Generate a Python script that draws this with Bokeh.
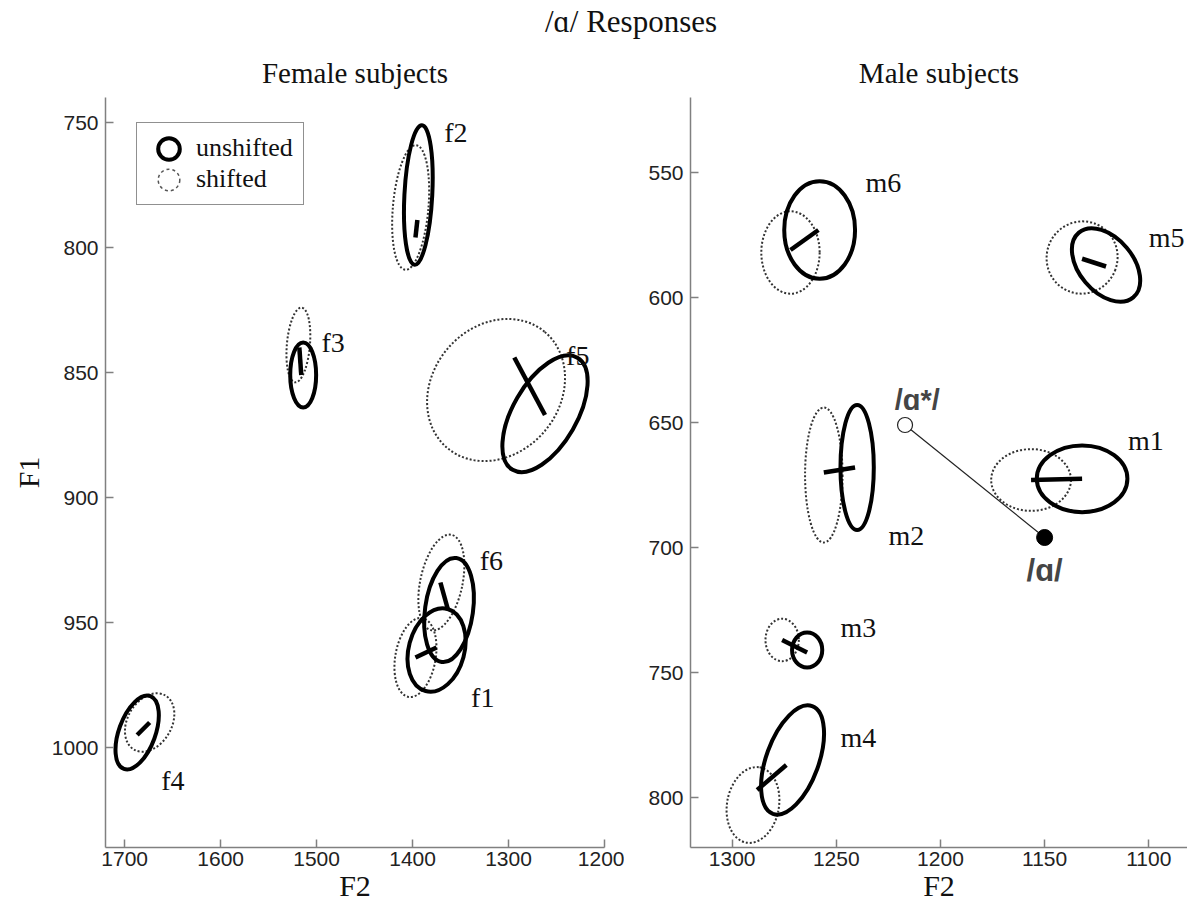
import numpy as np
from bokeh.plotting import figure
from bokeh.models import Range1d, FixedTicker, Legend, LegendItem, ColumnDataSource, Div
from bokeh.layouts import column, row
from bokeh.core.properties import value
from bokeh.embed import file_html
from bokeh.resources import INLINE

# ---------------- Female subjects ----------------
f_names = ["f1", "f2", "f3", "f4", "f5", "f6"]
# unshifted (solid) ellipses
f_un_F2 = [1375, 1394, 1514, 1687, 1262, 1362]
f_un_F1 = [961, 779, 851, 994, 866.5, 945]
f_un_w = [58, 29, 27, 38, 135, 50]
f_un_h = [34, 56, 26, 31, 25.6, 42]
f_un_ang = [-15, -3, 0, -20, 60, -8]
# shifted (dotted) ellipses
f_sh_F2 = [1397, 1402, 1519, 1674, 1313, 1370]
f_sh_F1 = [964, 784, 839, 990, 857, 934]
f_sh_w = [42, 37, 24, 46, 158, 44]
f_sh_h = [32, 50, 30, 25, 51, 39]
f_sh_ang = [-10, -5, -5, -30, 50, -12]
# shift segments
f_seg_F2a = [1397, 1397, 1518, 1674, 1294, 1371]
f_seg_F1a = [964, 796, 840, 990, 844, 934]
f_seg_F2b = [1375, 1395, 1516, 1687, 1262, 1363]
f_seg_F1b = [960, 789, 851, 995, 867, 945]
# label positions
f_lab_F2 = [1339, 1367, 1495, 1662, 1240, 1330]
f_lab_F1 = [980, 754, 838, 1013, 843, 925]

# ---------------- Male subjects ----------------
m_names = ["m1", "m2", "m3", "m4", "m5", "m6"]
m_un_F2 = [1132, 1240, 1264, 1271, 1120.5, 1258]
m_un_F1 = [672.5, 668, 741, 785, 587, 573]
m_un_w = [43.5, 16, 14.5, 55, 40.6, 34]
m_un_h = [26.7, 50, 14, 21, 21.6, 39]
m_un_ang = [0, 0, 0, 70, -50, 0]
m_sh_F2 = [1156.5, 1256, 1276, 1290, 1132, 1272]
m_sh_F1 = [673, 671, 737, 803, 584, 582]
m_sh_w = [38.3, 18, 16, 36.7, 34, 28]
m_sh_h = [24.7, 54, 17, 20.8, 29, 33]
m_sh_ang = [0, 0, 0, 80, -20, 0]
m_seg_F2a = [1156.5, 1256, 1276, 1288, 1132, 1272]
m_seg_F1a = [673, 670, 737, 797, 584.5, 581]
m_seg_F2b = [1132, 1241, 1264, 1274, 1120.5, 1258.6]
m_seg_F1b = [672.5, 668, 742, 787, 587.6, 573]
m_lab_F2 = [1110, 1225, 1248, 1248, 1100, 1236]
m_lab_F1 = [657, 695, 732, 776, 576, 554]

# reference vowels
v_names = ["/\u0251*/", "/\u0251/"]
v_F2 = [1217, 1150]
v_F1 = [651, 696]
v_lab_F2 = [1222, 1150]
v_lab_F1 = [641, 709]

# ticks
f_xticks = [1200, 1300, 1400, 1500, 1600, 1700]
f_yticks = [750, 800, 850, 900, 950, 1000]
m_xticks = [1100, 1150, 1200, 1250, 1300]
m_yticks = [550, 600, 650, 700, 750, 800]

SERIF = "Liberation Serif"
SANS = "Liberation Sans"
AXIS_GRAY = "#808080"


def style_axes(p, xticks, yticks):
    p.outline_line_color = None
    p.xgrid.visible = False
    p.ygrid.visible = False
    p.xaxis.ticker = FixedTicker(ticks=xticks)
    p.yaxis.ticker = FixedTicker(ticks=yticks)
    for ax in (p.xaxis[0], p.yaxis[0]):
        ax.axis_line_color = AXIS_GRAY
        ax.axis_line_width = 1.5
        ax.major_tick_line_color = AXIS_GRAY
        ax.major_tick_line_width = 1.5
        ax.major_tick_in = 8
        ax.major_tick_out = 0
        ax.minor_tick_line_color = None
        ax.major_label_text_font = SANS
        ax.major_label_text_font_size = "21px"
        ax.major_label_text_color = "#222222"
        ax.major_label_standoff = 7
        ax.axis_label_text_font = SERIF
        ax.axis_label_text_font_size = "30px"
        ax.axis_label_text_font_style = "normal"
        ax.axis_label_text_color = "#111111"
        ax.axis_label_standoff = 4
    p.xaxis[0].major_label_standoff = 4
    p.xaxis[0].axis_label_standoff = 0
    p.title.text_font = SERIF
    p.title.text_font_size = "29px"
    p.title.text_font_style = "normal"
    p.title.text_color = "#111111"
    p.title.align = "center"
    p.title.standoff = 17


def draw_panel(p, names, un, sh, seg, lab):
    src_sh = ColumnDataSource(dict(x=sh[0], y=sh[1], w=sh[2], h=sh[3], a=sh[4]))
    src_un = ColumnDataSource(dict(x=un[0], y=un[1], w=un[2], h=un[3], a=un[4]))
    p.ellipse(x="x", y="y", width="w", height="h", angle="a", angle_units="deg",
              source=src_sh, fill_color=None, line_color="#333333", line_width=2,
              line_dash="2 2")
    p.ellipse(x="x", y="y", width="w", height="h", angle="a", angle_units="deg",
              source=src_un, fill_color=None, line_color="black", line_width=4)
    src_seg = ColumnDataSource(dict(x0=seg[0], y0=seg[1], x1=seg[2], y1=seg[3]))
    p.segment(x0="x0", y0="y0", x1="x1", y1="y1", source=src_seg,
              line_color="black", line_width=4.5)
    src_lab = ColumnDataSource(dict(x=lab[0], y=lab[1], t=names))
    p.text(x="x", y="y", text="t", source=src_lab, text_font=value(SERIF),
           text_font_size="28px", text_color="#111111", text_align="left",
           text_baseline="middle")


# ---------- left panel ----------
p1 = figure(frame_width=499, frame_height=750,
            x_range=Range1d(1720, 1200), y_range=Range1d(1040, 740),
            output_backend="svg", toolbar_location=None,
            min_border_left=105, min_border_right=20, min_border_top=47,
            min_border_bottom=58, title="Female subjects")
style_axes(p1, f_xticks, f_yticks)
p1.xaxis.axis_label = "F2"
p1.yaxis.axis_label = "F1"
draw_panel(p1, f_names,
           (f_un_F2, f_un_F1, f_un_w, f_un_h, f_un_ang),
           (f_sh_F2, f_sh_F1, f_sh_w, f_sh_h, f_sh_ang),
           (f_seg_F2a, f_seg_F1a, f_seg_F2b, f_seg_F1b),
           (f_lab_F2, f_lab_F1))

# legend with circle-shaped key glyphs
leg_src = ColumnDataSource(dict(x=np.array([np.nan]), y=np.array([np.nan])))
r_un = p1.ellipse(x="x", y="y", width=20, height=20, width_units="screen",
                  height_units="screen", source=leg_src, fill_color=None,
                  line_color="black", line_width=4)
r_sh = p1.ellipse(x="x", y="y", width=20, height=20, width_units="screen",
                  height_units="screen", source=leg_src, fill_color=None,
                  line_color="#555555", line_width=1.5, line_dash="3 3")
legend = Legend(items=[LegendItem(label="unshifted", renderers=[r_un]),
                       LegendItem(label="shifted", renderers=[r_sh])],
                location=(31, 642), orientation="vertical",
                border_line_color="#222222", border_line_width=1.5,
                background_fill_color="white", background_fill_alpha=1,
                padding=10, spacing=1, margin=0,
                glyph_width=43, glyph_height=27, label_height=27,
                label_standoff=6, label_text_font=SERIF,
                label_text_font_size="26px", label_text_color="#111111")
p1.add_layout(legend, "center")

# ---------- right panel ----------
p2 = figure(frame_width=497, frame_height=750,
            x_range=Range1d(1320, 1081.4), y_range=Range1d(820, 520),
            output_backend="svg", toolbar_location=None,
            min_border_left=66, min_border_right=0, min_border_top=47,
            min_border_bottom=58, title="Male subjects")
style_axes(p2, m_xticks, m_yticks)
p2.xaxis.axis_label = "F2"
draw_panel(p2, m_names,
           (m_un_F2, m_un_F1, m_un_w, m_un_h, m_un_ang),
           (m_sh_F2, m_sh_F1, m_sh_w, m_sh_h, m_sh_ang),
           (m_seg_F2a, m_seg_F1a, m_seg_F2b, m_seg_F1b),
           (m_lab_F2, m_lab_F1))

v_src = ColumnDataSource(dict(x=v_F2, y=v_F1))
p2.line(x="x", y="y", source=v_src, line_color="#222222", line_width=1.2)
p2.scatter(x=v_F2[:1], y=v_F1[:1], size=15, marker="circle",
           fill_color="white", line_color="#222222", line_width=1.2)
p2.scatter(x=v_F2[1:], y=v_F1[1:], size=16, marker="circle",
           fill_color="black", line_color="black")
p2.text(x=v_lab_F2[:1], y=v_lab_F1[:1], text=v_names[:1], text_font=value(SANS),
        text_font_size="29px", text_font_style="bold", text_color="#454545",
        text_align="left", text_baseline="middle")
p2.text(x=v_lab_F2[1:], y=v_lab_F1[1:], text=v_names[1:], text_font=value(SANS),
        text_font_size="31px", text_font_style="bold", text_color="#454545",
        text_align="center", text_baseline="middle")

title_div = Div(
    text=('<div style="width:1124px;margin-left:64px;text-align:center;'
          'font-family:\'Liberation Serif\';font-size:31px;line-height:30px;'
          'padding-top:2px;color:#111111;">/\u0251/ Responses</div>'),
    width=1187, height=36)

layout = column(title_div, row(p1, p2, spacing=0), spacing=0)
open("out.html", "w").write(file_html(layout, INLINE, title="Responses"))
